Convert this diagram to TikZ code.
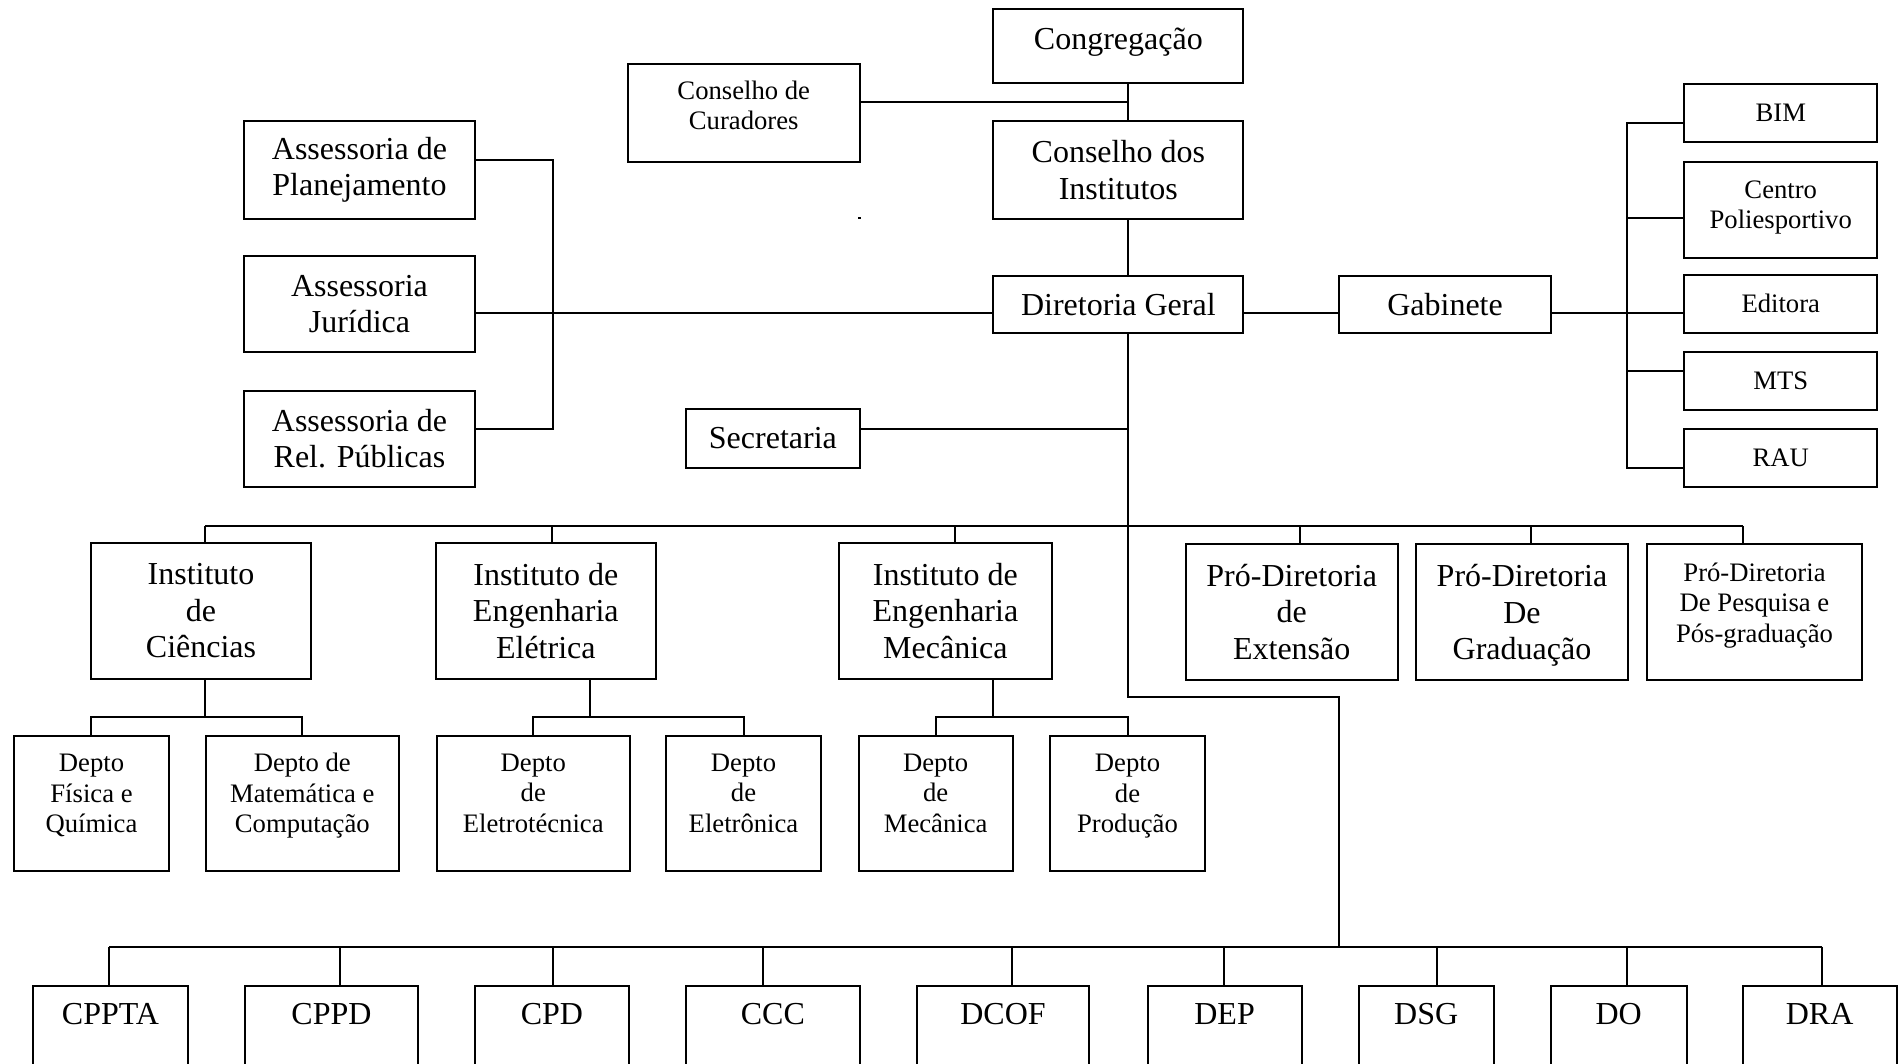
\documentclass[tikz,border=0pt]{standalone}
\usepackage{fontspec}
\setmainfont{Liberation Serif}
\newcommand\Lg{\fontsize{12pt}{13.65pt}\selectfont}
\newcommand\Sm{\fontsize{10pt}{11.4pt}\selectfont}
\tikzset{
  orgbox/.style={draw, line width=0.75pt, inner sep=0pt, rectangle},
  orgtxt/.style={align=center, inner sep=0pt},
  conn/.style={line width=0.75pt}
}
\newcommand\obox[8]{%
  \node[orgbox, minimum width={(#4-#2)*0.375pt}, minimum height={(#5-#3)*0.375pt}] (#1) at ({(#2+#4)/2},{(#3+#5)/2}) {};
  \node[orgtxt, font=#7] (#1-t) at ([yshift={-(#6)*0.375pt}]#1.center) {#8};
}
\begin{document}
\begin{tikzpicture}[x=0.375pt, y=-0.375pt]
\useasboundingbox (0,0) rectangle (1904,1063);
\clip (0,0) rectangle (1904,1063);

% top
\obox{cong}{993.3}{8.5}{1243.4}{82.6}{-3.1}{\Lg}{Congregação}
\obox{cur}{627.8}{64.4}{859.7}{161.5}{-7.5}{\Sm}{Conselho de\\Curadores}
\obox{cdi}{993.3}{121.4}{1243.4}{218.6}{0}{\Lg}{Conselho dos\\Institutos}
\obox{dg}{993.3}{275.6}{1243.4}{332.7}{0}{\Lg}{Diretoria Geral}
\obox{gab}{1339.4}{275.6}{1550.7}{332.7}{0}{\Lg}{Gabinete}
% right column
\obox{bim}{1684.2}{83.8}{1877.3}{142.1}{0}{\Sm}{BIM}
\obox{cen}{1684.2}{161.5}{1877.3}{258}{-2.4}{\Sm}{Centro\\Poliesportivo}
\obox{edi}{1684.2}{275}{1877.3}{332.5}{0}{\Sm}{Editora}
\obox{mts}{1684.2}{351.5}{1877.3}{409.5}{0}{\Sm}{MTS}
\obox{rau}{1684.2}{429}{1877.3}{487}{0}{\Sm}{RAU}
% left column
\obox{apl}{244.1}{121.4}{474.8}{218.6}{0}{\Lg}{Assessoria de\\Planejamento}
\obox{ajr}{244.1}{256}{474.8}{352.3}{0}{\Lg}{Assessoria\\Jurídica}
\obox{arp}{244.1}{390.5}{474.8}{487}{0}{\Lg}{Assessoria de\\Rel. Públicas}
\obox{sec}{686.1}{409.2}{859.7}{467.5}{0}{\Lg}{Secretaria}
% institutes
\obox{ic}{91.1}{542.8}{310.9}{678.8}{0}{\Lg}{Instituto\\de\\Ciências}
\obox{iee}{435.9}{542.8}{655.7}{678.8}{0}{\Lg}{Instituto de\\Engenharia\\Elétrica}
\obox{iem}{839.1}{542.8}{1051.6}{678.8}{0}{\Lg}{Instituto de\\Engenharia\\Mecânica}
\obox{pext}{1185.6}{544}{1397.8}{680}{0}{\Lg}{Pró-Diretoria\\de\\Extensão}
\obox{pgrad}{1416}{544}{1628}{680}{3.6}{\Lg}{Pró-Diretoria\\De\\Graduação}
\obox{ppes}{1647}{544}{1862}{680}{-6.7}{\Sm}{Pró-Diretoria\\De Pesquisa e\\Pós-graduação}
% departments
\obox{dfq}{14}{736}{169}{871}{-7.9}{\Sm}{Depto\\Física e\\Química}
\obox{dmc}{206}{736}{398.6}{871}{-7.9}{\Sm}{Depto de\\Matemática e\\Computação}
\obox{det}{437}{736}{629.5}{871}{-10.3}{\Sm}{Depto\\de\\Eletrotécnica}
\obox{den}{666}{736}{821}{871}{-10.3}{\Sm}{Depto\\de\\Eletrônica}
\obox{dme}{858.5}{736}{1012.7}{871}{-10.3}{\Sm}{Depto\\de\\Mecânica}
\obox{dpr}{1050.4}{736}{1204.6}{871}{-7.3}{\Sm}{Depto\\de\\Produção}
% bottom row
\obox{b1}{32.8}{985.7}{188.2}{1090}{-23.9}{\Lg}{CPPTA}
\obox{b2}{245.3}{985.7}{417.7}{1090}{-23.9}{\Lg}{CPPD}
\obox{b3}{474.8}{985.7}{629}{1090}{-23.9}{\Lg}{CPD}
\obox{b4}{686.1}{985.7}{859.7}{1090}{-23.9}{\Lg}{CCC}
\obox{b5}{916.8}{985.7}{1089.2}{1090}{-23.9}{\Lg}{DCOF}
\obox{b6}{1147.5}{985.7}{1301.7}{1090}{-23.9}{\Lg}{DEP}
\obox{b7}{1358.8}{985.7}{1493.6}{1090}{-23.9}{\Lg}{DSG}
\obox{b8}{1550.7}{985.7}{1686.7}{1090}{-23.9}{\Lg}{DO}
\obox{b9}{1742.5}{985.7}{1896.7}{1090}{-23.9}{\Lg}{DRA}

% connectors: spine
\coordinate (spx) at (1128.1,0);
\coordinate (jc) at (1128.1,102.3);
\draw[conn] (cong.south -| spx) -- (cdi.north -| spx);
\draw[conn] (cur.east |- jc) -- (jc);
\draw[conn] (cdi.south -| spx) -- (dg.north -| spx);
\coordinate (dgl) at (0,313.3);
\draw[conn] (ajr.east |- dgl) -- (dg.west |- dgl);
\draw[conn] (dg.east |- dgl) -- (gab.west |- dgl);
\draw[conn] (gab.east |- dgl) -- (edi.west |- dgl);
% left bus
\coordinate (lb1) at (552.5,160.3);
\coordinate (lb3) at (552.5,428.6);
\draw[conn] (apl.east |- lb1) -- (lb1) -- (lb3) -- (arp.east |- lb3);
% right bus
\coordinate (rb1) at (1627.2,122.6);
\coordinate (rb2) at (1627.2,217.5);
\coordinate (rb4) at (1627.2,371);
\coordinate (rb5) at (1627.2,467.6);
\draw[conn] (bim.west |- rb1) -- (rb1) -- (rb5) -- (rau.west |- rb5);
\draw[conn] (cen.west |- rb2) -- (rb2);
\draw[conn] (mts.west |- rb4) -- (rb4);
% secretaria
\coordinate (sj) at (1128.1,428.6);
\draw[conn] (sec.east |- sj) -- (sj);
% spine down
\coordinate (sp1) at (1128.1,697);
\coordinate (sp2) at (1339.4,697);
\coordinate (bbj) at (1339.4,946.7);
\draw[conn] (dg.south -| spx) -- (sp1) -- (sp2) -- (bbj);
% main bus
\coordinate (m1) at (205.2,525.8);
\coordinate (m2) at (551.7,525.8);
\coordinate (m3) at (954.7,525.8);
\coordinate (m4) at (1300,525.8);
\coordinate (m5) at (1531,525.8);
\coordinate (m6) at (1742.5,525.8);
\draw[conn] (m1) -- (m6);
\foreach \cc/\nn in {m1/ic, m2/iee, m3/iem, m4/pext, m5/pgrad, m6/ppes}
  \draw[conn] (\cc) -- (\cc |- \nn.north);
% sub busses
\coordinate (s1) at (205.2,716.6);
\coordinate (s1a) at (90.6,716.6);
\coordinate (s1b) at (301.7,716.6);
\draw[conn] (ic.south -| s1) -- (s1);
\draw[conn] (s1a |- dfq.north) -- (s1a) -- (s1b) -- (s1b |- dmc.north);
\coordinate (s2) at (590,716.6);
\coordinate (s2a) at (532.5,716.6);
\coordinate (s2b) at (743.6,716.6);
\draw[conn] (iee.south -| s2) -- (s2);
\draw[conn] (s2a |- det.north) -- (s2a) -- (s2b) -- (s2b |- den.north);
\coordinate (s3) at (993.3,716.6);
\coordinate (s3a) at (935.6,716.6);
\coordinate (s3b) at (1128.1,716.6);
\draw[conn] (iem.south -| s3) -- (s3);
\draw[conn] (s3a |- dme.north) -- (s3a) -- (s3b) -- (s3b |- dpr.north);
% bottom bus
\coordinate (bb1) at (109.3,946.7);
\coordinate (bb2) at (340.3,946.7);
\coordinate (bb3) at (552.5,946.7);
\coordinate (bb4) at (762.6,946.7);
\coordinate (bb5) at (1011.5,946.7);
\coordinate (bb6) at (1224,946.7);
\coordinate (bb7) at (1436.5,946.7);
\coordinate (bb8) at (1627.2,946.7);
\coordinate (bb9) at (1821.5,946.7);
\draw[conn] (bb1) -- (bb9);
\foreach \i in {1,...,9}
  \draw[conn] (bb\i) -- (bb\i |- b\i.north);
% stray mark
\fill (858,216.5) rectangle (860.5,219);
\end{tikzpicture}
\end{document}
